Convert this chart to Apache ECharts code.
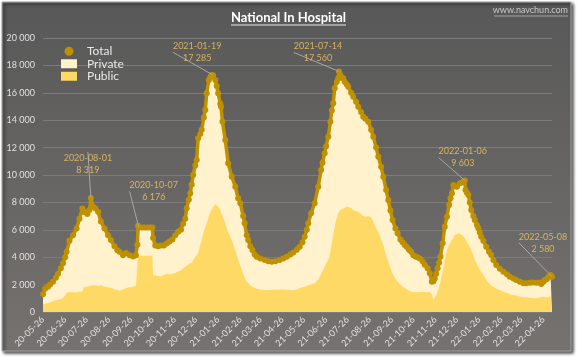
<!DOCTYPE html>
<html>
<head>
<meta charset="utf-8">
<script src="https://cdn.jsdelivr.net/npm/echarts@6/dist/echarts.min.js"></script>
<style>
html,body{margin:0;padding:0;background:#ffffff;}
#chart{width:577px;height:357px;}
</style>
</head>
<body>
<div id="chart"></div>
<script>
// ---- data ----
const startDate = '2020-05-26';
// days after startDate
const dayOffsets = [0,3,7,10,14,18,21,25,28,31,33,37,42,47,51,55,57,59,62,65,67,70,73,77,81,86,91,95,100,104,107,112,116,121,126,130,132,133,134,138,142,146,150,153,154,157,161,165,169,173,177,181,185,189,193,196,199,201,204,206,208,210,213,215,217,220,222,225,227,229,232,234,236,238,241,243,245,248,249,251,255,259,264,269,273,276,280,282,285,287,290,293,296,299,304,310,315,320,325,331,336,341,346,350,355,359,363,366,369,371,375,380,385,389,391,394,396,399,402,404,406,408,411,413,414,416,418,420,422,425,427,431,434,438,441,445,448,451,455,459,462,466,469,473,476,480,483,486,489,493,496,500,503,506,509,512,515,518,521,524,527,531,534,538,541,544,546,548,550,552,554,556,559,562,565,568,570,572,574,576,579,583,586,588,590,591,593,595,597,599,602,604,607,609,611,613,616,620,624,627,630,634,639,644,649,653,658,662,667,672,676,681,685,690,694,697,700,702,705,707,710,712];
const totalValues = [1300,1700,1850,2000,2200,2500,2800,3200,3550,4000,4400,5200,5600,6100,6800,7550,7300,7300,7150,7450,8319,7700,7570,7320,6600,6100,5600,5250,4800,4500,4400,4150,4300,4150,4050,4150,4900,6300,6176,6176,6176,6176,6176,6176,5400,4850,4800,4850,4850,5000,5150,5300,5600,5850,6000,6450,6800,7570,8200,8660,9300,10000,10700,11100,12680,13000,13300,14200,14750,15970,16940,17150,17300,17285,16940,16500,15970,15200,14990,13890,12560,10860,9880,9150,8300,7940,7000,6470,5600,5260,4800,4530,4200,4040,3900,3800,3700,3670,3700,3800,3900,4040,4200,4350,4550,4770,5100,5500,6000,6470,7200,7940,9150,10370,10900,11590,12100,12800,13890,14700,15240,16330,16800,17060,17560,17300,17100,17060,16800,16600,16450,16000,15720,15350,14990,14600,14260,14100,13890,13300,12800,12000,11340,10600,9880,8900,8180,7400,6720,6100,5750,5300,5100,4890,4750,4550,4400,4150,4050,3990,3900,3700,3450,3200,2820,2200,2250,2450,2800,3190,3600,4040,5010,6230,6960,7810,8300,8670,9270,9200,9150,9390,9450,9520,9603,8910,8700,8540,8000,7450,7000,6720,6350,6110,5800,5500,5200,4770,4400,4160,3800,3430,3150,2940,2750,2580,2450,2340,2200,2090,2100,2140,2150,2140,2150,2040,2200,2340,2400,2580,2700,2580];
const publicValues = [550,600,650,700,780,850,900,950,1050,1200,1400,1450,1450,1450,1480,1500,1800,1850,1850,1900,1900,1950,1950,1900,1950,1850,1800,1750,1650,1600,1550,1650,1750,1800,1850,1900,1900,4100,4100,4100,4100,4100,4100,4100,2700,2650,2650,2600,2700,2800,2750,2800,2850,2950,3050,3200,3300,3400,3500,3550,3600,3700,4000,4150,4300,4900,5250,5900,6200,6470,7000,7300,7450,7650,7850,7940,7700,7450,7300,7000,6470,5800,5260,4500,3800,3400,2800,2500,2200,2100,1950,1850,1750,1700,1650,1610,1600,1620,1650,1640,1650,1620,1600,1610,1650,1750,1800,1850,1900,1950,2000,2100,2350,2800,3000,3300,3550,3800,4400,5000,5600,6230,6900,7200,7300,7450,7500,7550,7570,7700,7650,7600,7450,7350,7320,7150,7000,6960,7000,6900,6600,6100,5850,5300,4900,4100,3700,3200,2800,2450,2200,2000,1850,1750,1650,1550,1480,1450,1440,1450,1460,1460,1460,1450,1440,1300,900,900,1200,1500,1800,2200,2900,3800,4500,4900,5050,5250,5400,5620,5700,5720,5600,5500,5380,5300,5100,4950,4770,4500,4150,3800,3500,3300,3070,2900,2700,2340,2100,1950,1850,1700,1600,1480,1380,1300,1240,1200,1130,1070,1070,1040,1020,1000,1050,1100,1120,1100,1050,1100,1150,1170];
const tickLabels = ['20-05-26','20-06-26','20-07-26','20-08-26','20-09-26','20-10-26','20-11-26','20-12-26','21-01-26','21-02-26','21-03-26','21-04-26','21-05-26','21-06-26','21-07-26','21-08-26','21-09-26','21-10-26','21-11-26','21-12-26','22-01-26','22-02-26','22-03-26','22-04-26'];
const endDate = '2022-05-08';
const annDates = ['2020-08-01','2020-10-07','2021-01-19','2021-07-14','2022-01-06','2022-05-08'];
const annValues = [8319,6176,17285,17560,9603,2580];

// ---- helpers ----
const DAY = 86400000;
function utc(y,m,d){return Date.UTC(y,m-1,d);}
function parseDate(s){const p=s.split('-').map(Number);return utc(p[0],p[1],p[2]);}
function shortDate(s){const p=s.split('-').map(Number);return utc(2000+p[0],p[1],p[2]);}
function fmt(v){return String(v).replace(/\B(?=(\d{3})+(?!\d))/g,' ');}
const t0 = parseDate(startDate);
const dayOf = ts => Math.round((ts - t0)/DAY);
const endDay = dayOf(parseDate(endDate));
const tickDays = tickLabels.map(s=>dayOf(shortDate(s)));
const tickMap = {}; tickDays.forEach((d,i)=>{tickMap[d]=tickLabels[i];});

// Private is stacked on Public: its top edge is public + private (= total)
const privateValues = totalValues.map((t,i)=>t-publicValues[i]);
const publicData = dayOffsets.map((d,i)=>[d,publicValues[i]]);
const privateStackData = dayOffsets.map((d,i)=>[d,publicValues[i]+privateValues[i]]);
const totalData = dayOffsets.map((d,i)=>[d,totalValues[i]]);
const annOffsets = [[-3,-34],[15,-36],[-16,-23],[-21,-19],[-2,-23],[-9,-34]];
const annData = annDates.map((d,i)=>({value:[dayOf(parseDate(d)),annValues[i]],label:{formatter:d+'\n'+fmt(annValues[i])}}));

const FONT = 'Lato, "Open Sans", sans-serif';
const chart = echarts.init(document.getElementById('chart'),null,{renderer:'canvas'});
chart.setOption({
  animation:false,
  backgroundColor:'#ffffff',
  textStyle:{fontFamily:FONT},
  graphic:[
    {type:'rect',z:-10,silent:true,shape:{x:2,y:2,width:569,height:349},
     style:{fill:{type:'linear',x:0,y:0,x2:0,y2:1,colorStops:[{offset:0,color:'#585858'},{offset:1,color:'#75726f'}]},
     stroke:'#a8a8a8',lineWidth:1,shadowBlur:3,shadowOffsetX:2,shadowOffsetY:2,shadowColor:'rgba(0,0,0,0.7)'}},
    {type:'text',left:'center',top:11,z:10,style:{text:'National In Hospital',fill:'#ffffff',font:'bold 13px '+FONT}},
    {type:'line',z:10,shape:{x1:231,y1:25,x2:346,y2:25},style:{stroke:'#e8e8e8',lineWidth:1}},
    {type:'text',right:9,top:6,z:10,style:{text:'www.navchun.com',fill:'#c8c8c8',font:'9px '+FONT}},
    {type:'line',z:10,shape:{x1:494,y1:16,x2:568,y2:16},style:{stroke:'#b8b8b8',lineWidth:0.8}}
  ],
  legend:{
    data:[{name:'Total',icon:'circle'},{name:'Private',icon:'rect'},{name:'Public',icon:'rect'}],
    orient:'vertical',left:56,top:40,itemGap:0,itemWidth:16,itemHeight:9,
    textStyle:{color:'#e8e8e8',fontSize:12,lineHeight:12.5,padding:[0,0,0,5],fontFamily:FONT}
  },
  grid:{left:43,right:25,top:38,bottom:45,containLabel:false},
  xAxis:{
    type:'value',min:0,max:endDay,
    axisLine:{show:false},
    axisTick:{show:false},
    splitLine:{show:false},
    axisLabel:{customValues:tickDays,rotate:45,color:'#e0e0e0',fontSize:9,margin:6,
      formatter:function(v){return tickMap[v]||'';}}
  },
  yAxis:{
    type:'value',min:0,max:20000,interval:2000,
    axisLine:{show:false},axisTick:{show:false},
    splitLine:{lineStyle:{color:'#7c7c7c',width:1}},
    axisLabel:{color:'#e0e0e0',fontSize:9,margin:8,formatter:function(v){return fmt(v);}}
  },
  series:[
    {name:'Private',type:'line',data:privateStackData,symbol:'none',
     lineStyle:{width:0},areaStyle:{color:'#fff2cc',opacity:1},itemStyle:{color:'#fff2cc'},z:1},
    {name:'Public',type:'line',data:publicData,symbol:'none',
     lineStyle:{width:0},areaStyle:{color:'#ffd966',opacity:1},itemStyle:{color:'#ffd966'},z:2},
    {name:'Total',type:'line',data:totalData,symbol:'circle',symbolSize:6,showAllSymbol:true,
     lineStyle:{color:'#bf9000',width:3.5},itemStyle:{color:'#bf9000'},z:3},
    {name:'ann',type:'scatter',data:annData,symbolSize:0,z:5,silent:true,
     label:{show:true,position:'inside',color:'#f2c75c',fontSize:9,lineHeight:12,align:'center',fontFamily:FONT},
     labelLine:{show:true,lineStyle:{color:'#a6a6a6',width:1}},
     labelLayout:function(p){const o=annOffsets[p.dataIndex];return {dx:o[0],dy:o[1]};}}
  ]
});
</script>
</body>
</html>
